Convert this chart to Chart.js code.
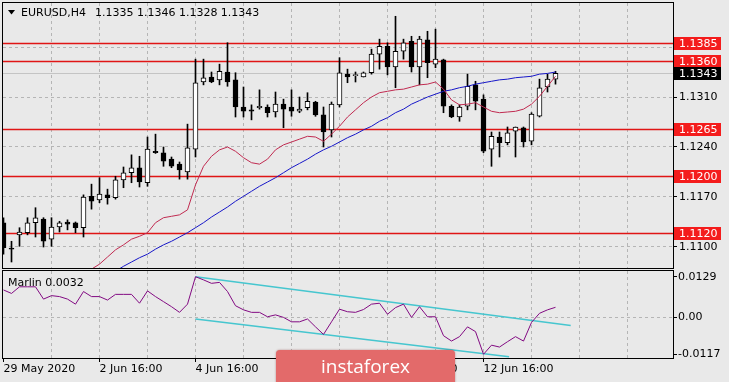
<!DOCTYPE html>
<html lang="en">
<head>
<meta charset="UTF-8">
<title>EURUSD,H4</title>
<script src="https://cdn.jsdelivr.net/npm/chart.js"></script>
<style>
    html, body {
        margin: 0;
        padding: 0;
        background: #e9e9e9;
        overflow: hidden;
    }
    #wrap {
        position: relative;
        width: 729px;
        height: 382px;
        overflow: hidden;
    }
    #main { position: absolute; left: 0; top: 0; }
    #osc { position: absolute; left: 0; top: 270px; }
    /* watermark box in the lower middle */
    .logo {
        position: absolute;
        left: 276px;
        top: 350px;
        width: 179px;
        height: 40px;
        background: #e36a6a;
        border-radius: 4px;
        box-shadow: 0 0 2px rgba(120, 30, 30, 0.5);
        color: #fff;
        font-family: "Open Sans", sans-serif;
        font-size: 19px;
        line-height: 32px;
        text-align: center;
    }
</style>
</head>
<body>
<div id="wrap">
    <canvas id="main" width="729" height="270"></canvas>
    <canvas id="osc" width="729" height="112"></canvas>
    <div class="logo">instaforex</div>
</div>

<script>
// H4 candles, index 0 = 29 May 16:00
const opens  = [1.1134, 1.1098, 1.1117, 1.1120, 1.1134, 1.1139, 1.1111, 1.1128, 1.1135, 1.1134,
                1.1127, 1.1171, 1.1166, 1.1173, 1.1169, 1.1194, 1.1204, 1.1211, 1.1190, 1.1234,
                1.1232, 1.1223, 1.1216, 1.1205, 1.1237, 1.1331, 1.1338, 1.1334, 1.1345, 1.1334,
                1.1296, 1.1292, 1.1295, 1.1296, 1.1289, 1.1300, 1.1296, 1.1290, 1.1295, 1.1303,
                1.1285, 1.1264, 1.1299, 1.1342, 1.1340, 1.1338, 1.1344, 1.1370, 1.1381, 1.1352,
                1.1374, 1.1388, 1.1352, 1.1390, 1.1356, 1.1362, 1.1297, 1.1282, 1.1297, 1.1327,
                1.1307, 1.1237, 1.1254, 1.1246, 1.1262, 1.1267, 1.1248, 1.1283, 1.1324, 1.1335];
const highs  = [1.1141, 1.1108, 1.1127, 1.1141, 1.1155, 1.1141, 1.1141, 1.1136, 1.1138, 1.1135,
                1.1173, 1.1188, 1.1197, 1.1181, 1.1199, 1.1212, 1.1229, 1.1227, 1.1254, 1.1258,
                1.1240, 1.1226, 1.1219, 1.1272, 1.1363, 1.1363, 1.1345, 1.1356, 1.1386, 1.1344,
                1.1324, 1.1299, 1.1320, 1.1299, 1.1317, 1.1307, 1.1320, 1.1310, 1.1316, 1.1304,
                1.1296, 1.1303, 1.1365, 1.1349, 1.1345, 1.1345, 1.1377, 1.1391, 1.1386, 1.1423,
                1.1391, 1.1395, 1.1395, 1.1402, 1.1405, 1.1363, 1.1299, 1.1299, 1.1342, 1.1332,
                1.1313, 1.1261, 1.1261, 1.1268, 1.1268, 1.1268, 1.1288, 1.1335, 1.1342, 1.1346];
const lows   = [1.1090, 1.1079, 1.1101, 1.1117, 1.1114, 1.1100, 1.1101, 1.1121, 1.1124, 1.1120,
                1.1114, 1.1153, 1.1162, 1.1160, 1.1167, 1.1183, 1.1190, 1.1184, 1.1185, 1.1231,
                1.1213, 1.1211, 1.1195, 1.1195, 1.1226, 1.1327, 1.1330, 1.1327, 1.1325, 1.1282,
                1.1282, 1.1278, 1.1293, 1.1282, 1.1282, 1.1267, 1.1283, 1.1288, 1.1292, 1.1283,
                1.1240, 1.1254, 1.1296, 1.1330, 1.1331, 1.1338, 1.1342, 1.1349, 1.1341, 1.1323,
                1.1363, 1.1345, 1.1327, 1.1337, 1.1351, 1.1288, 1.1281, 1.1276, 1.1292, 1.1292,
                1.1232, 1.1213, 1.1226, 1.1243, 1.1226, 1.1240, 1.1243, 1.1282, 1.1317, 1.1328];
const closes = [1.1099, 1.1097, 1.1121, 1.1134, 1.1141, 1.1108, 1.1128, 1.1134, 1.1132, 1.1127,
                1.1170, 1.1164, 1.1174, 1.1169, 1.1194, 1.1204, 1.1211, 1.1191, 1.1237, 1.1232,
                1.1220, 1.1213, 1.1208, 1.1239, 1.1330, 1.1337, 1.1331, 1.1346, 1.1331, 1.1296,
                1.1290, 1.1290, 1.1297, 1.1288, 1.1300, 1.1293, 1.1290, 1.1293, 1.1304, 1.1285,
                1.1261, 1.1300, 1.1344, 1.1338, 1.1340, 1.1344, 1.1370, 1.1381, 1.1352, 1.1374,
                1.1386, 1.1352, 1.1391, 1.1358, 1.1363, 1.1297, 1.1282, 1.1296, 1.1325, 1.1304,
                1.1234, 1.1255, 1.1246, 1.1260, 1.1268, 1.1247, 1.1286, 1.1323, 1.1335, 1.1343];

// moving averages (null = below the visible range / not drawn)
const maRed  = [null, null, null, null, null, null, null, null, null, null,
                null, 1.1069, 1.1076, 1.1086, 1.1096, 1.1103, 1.1111, 1.1115, 1.1120, 1.1134,
                1.1141, 1.1143, 1.1145, 1.1152, 1.1187, 1.1213, 1.1227, 1.1236, 1.1240, 1.1234,
                1.1225, 1.1218, 1.1216, 1.1223, 1.1236, 1.1243, 1.1247, 1.1251, 1.1255, 1.1254,
                1.1248, 1.1258, 1.1269, 1.1282, 1.1292, 1.1302, 1.1310, 1.1316, 1.1318, 1.1320,
                1.1321, 1.1324, 1.1327, 1.1328, 1.1331, 1.1321, 1.1306, 1.1299, 1.1300, 1.1302,
                1.1296, 1.1290, 1.1288, 1.1289, 1.1290, 1.1293, 1.1300, 1.1311, 1.1325, 1.1339];
const maBlue = [null, null, null, null, null, null, null, null, null, null,
                null, null, null, null, 1.1066, 1.1073, 1.1079, 1.1085, 1.1090, 1.1097,
                1.1103, 1.1108, 1.1114, 1.1120, 1.1127, 1.1134, 1.1142, 1.1149, 1.1156, 1.1164,
                1.1171, 1.1178, 1.1185, 1.1191, 1.1197, 1.1204, 1.1211, 1.1217, 1.1223, 1.1230,
                1.1236, 1.1241, 1.1247, 1.1253, 1.1258, 1.1264, 1.1269, 1.1276, 1.1281, 1.1288,
                1.1293, 1.1300, 1.1305, 1.1310, 1.1314, 1.1318, 1.1320, 1.1323, 1.1325, 1.1328,
                1.1330, 1.1332, 1.1334, 1.1335, 1.1337, 1.1338, 1.1339, 1.1342, 1.1343, 1.1345];

// Marlin oscillator
const marlin = [0.0087, 0.0076, 0.0097, 0.0097, 0.0097, 0.0058, 0.0069, 0.0066, 0.0058, 0.0042,
                0.0082, 0.0066, 0.0066, 0.0055, 0.0073, 0.0073, 0.0073, 0.0045, 0.0084, 0.0066,
                0.0050, 0.0034, 0.0016, 0.0042, 0.0129, 0.0119, 0.0108, 0.0111, 0.0082, 0.0037,
                0.0024, 0.0016, 0.0016, 0.0002, 0.0008, 0.0000, -0.0014, -0.0014, -0.0005, -0.0030,
                -0.0054, -0.0014, 0.0026, 0.0018, 0.0016, 0.0025, 0.0042, 0.0045, 0.0010, 0.0031,
                0.0042, 0.0000, 0.0034, 0.0002, 0.0002, -0.0058, -0.0075, -0.0061, -0.0030, -0.0045,
                -0.0117, -0.0088, -0.0094, -0.0077, -0.0061, -0.0075, -0.0016, 0.0013, 0.0024, 0.0032];

// trend lines on the oscillator (bar index, value)
const trendUpperX = [24, 70.9];
const trendUpperY = [0.0129, -0.0026];
const trendLowerX = [24, 63.2];
const trendLowerY = [-0.0005, -0.0125];

// horizontal levels and last price
const levels = [1.1385, 1.1360, 1.1265, 1.1200, 1.1120];
const bidPrice = 1.1343;

// axis ticks
const priceTicks = [1.1100, 1.1170, 1.1240, 1.1310, 1.1380];
const oscTicks = [0.0129, 0, -0.0117];
const oscTickText = ['0.0129', '0.00', '-0.0117'];
const dateIdx = [0, 12, 24, 36, 48, 60];
const dateText = ['29 May 2020', '2 Jun 16:00', '4 Jun 16:00', '8 Jun 16:00', '10 Jun 16:00', '12 Jun 16:00'];

const symbolText = 'EURUSD,H4';
const ohlcText = '1.1335 1.1346 1.1328 1.1343';
const marlinText = 'Marlin 0.0032';

// ---- view window ----
const xMin = -0.0625, xMax = 83.6875;           // 8 px per bar
const yMax = 1.14416, yMin = 1.10706;
const oscMax = 0.01471, oscMin = -0.01287;
const gridIdx = [];
for (let v = 0; v <= 78; v += 6) gridIdx.push(v);

Chart.defaults.font.family = 'DejaVu Sans';
Chart.defaults.font.size = 11;
Chart.defaults.color = '#000';

const GRID = '#b5b5b5';
const idx = opens.map((_, i) => i);
const toXY = arr => arr.map((v, i) => ({x: i, y: v})).filter(p => p.y !== null);

// keep the plot box exactly where the layout padding puts it
const noPad = s => { s.paddingTop = 0; s.paddingBottom = 0; s.paddingLeft = 0; s.paddingRight = 0; };

const frame = {
    id: 'frame',
    afterDraw(chart) {
        const {ctx, chartArea: a} = chart;
        ctx.save();
        ctx.strokeStyle = '#000';
        ctx.lineWidth = 1;
        ctx.strokeRect(a.left - 0.5, a.top - 0.5, a.right - a.left + 1, a.bottom - a.top + 1);
        ctx.restore();
    }
};

const levelLines = {
    id: 'levelLines',
    beforeDatasetsDraw(chart) {
        const {ctx, chartArea: a, scales: {y}} = chart;
        ctx.save();
        ctx.beginPath();
        ctx.rect(a.left, a.top, a.right - a.left, a.bottom - a.top);
        ctx.clip();
        let py = Math.round(y.getPixelForValue(bidPrice)) + 0.5;
        ctx.strokeStyle = '#c4c4c4';
        ctx.lineWidth = 1;
        ctx.beginPath(); ctx.moveTo(a.left, py); ctx.lineTo(a.right, py); ctx.stroke();
        ctx.strokeStyle = '#e01515';
        ctx.lineWidth = 1.4;
        levels.forEach(v => {
            const p = Math.round(y.getPixelForValue(v)) + 0.5;
            ctx.beginPath(); ctx.moveTo(a.left, p); ctx.lineTo(a.right, p); ctx.stroke();
        });
        ctx.restore();
    },
    afterDraw(chart) {
        const {ctx, chartArea: a, scales: {y}} = chart;
        ctx.save();
        ctx.font = '11px "DejaVu Sans"';
        ctx.textBaseline = 'middle';
        const tag = (v, bg) => {
            const p = Math.round(y.getPixelForValue(v));
            ctx.fillStyle = bg;
            ctx.fillRect(a.right + 1, p - 6, 47, 13);
            ctx.fillStyle = '#fff';
            ctx.fillText(v.toFixed(4), a.right + 6, p + 1);
        };
        levels.forEach(v => tag(v, '#f41c1c'));
        tag(bidPrice, '#000');

        // header
        ctx.fillStyle = '#000';
        ctx.beginPath();
        ctx.moveTo(8, 10); ctx.lineTo(15, 10); ctx.lineTo(11.5, 14.5); ctx.closePath();
        ctx.fill();
        ctx.fillText(symbolText, 21, 13);
        const w = ctx.measureText(symbolText).width;
        ctx.fillText(ohlcText, 21 + w + 9, 13);
        ctx.restore();
    }
};

new Chart(document.getElementById('main'), {
    type: 'line',
    data: {
        datasets: [
            {
                type: 'line', data: toXY(maRed), borderColor: '#c02a50', borderWidth: 1,
                pointRadius: 0, tension: 0, clip: 0, order: 0
            },
            {
                type: 'line', data: toXY(maBlue), borderColor: '#1616c8', borderWidth: 1,
                pointRadius: 0, tension: 0, clip: 0, order: 0
            },
            {
                type: 'bar', data: idx.map(i => ({x: i, y: [opens[i], closes[i]]})),
                backgroundColor: idx.map(i => closes[i] >= opens[i] ? '#ffffff' : '#000000'),
                borderColor: '#000', borderWidth: 1, borderSkipped: false,
                barThickness: 5, minBarLength: 1, grouped: false, clip: 0, order: 1
            },
            {
                type: 'bar', data: idx.map(i => ({x: i, y: [lows[i], highs[i]]})),
                backgroundColor: '#000', borderWidth: 0,
                barThickness: 1, grouped: false, clip: 0, order: 2
            }
        ]
    },
    options: {
        responsive: false,
        animation: false,
        events: [],
        layout: {padding: {left: 3, top: 3, right: 0, bottom: 2}, autoPadding: false},
        plugins: {legend: {display: false}, tooltip: {enabled: false}},
        scales: {
            x: {
                type: 'linear', min: xMin, max: xMax, bounds: 'data', offset: false,
                afterBuildTicks: s => { s.ticks = gridIdx.map(v => ({value: v})); },
                afterFit: s => { s.height = 0; noPad(s); },
                grid: {color: c => c.tick && c.tick.value === 0 ? 'rgba(0,0,0,0)' : GRID, drawTicks: false, offset: false},
                border: {display: false, dash: [3, 3]},
                ticks: {display: false}
            },
            y: {
                type: 'linear', position: 'right', min: yMin, max: yMax, bounds: 'data',
                afterBuildTicks: s => { s.ticks = priceTicks.map(v => ({value: v})); },
                afterFit: s => { s.width = 56; noPad(s); },
                grid: {color: GRID, drawTicks: true, tickLength: 4, tickColor: '#000'},
                border: {display: false, dash: [3, 3]},
                ticks: {padding: 2, color: '#000', callback: v => v > 1.137 ? '' : v.toFixed(4)}
            }
        }
    },
    plugins: [levelLines, frame]
});

const oscLabel = {
    id: 'oscLabel',
    afterDraw(chart) {
        const {ctx} = chart;
        ctx.save();
        ctx.font = '11px "DejaVu Sans"';
        ctx.fillStyle = '#000';
        ctx.textBaseline = 'middle';
        ctx.fillText(marlinText, 8, 13);
        ctx.restore();
    }
};

new Chart(document.getElementById('osc'), {
    type: 'line',
    data: {
        datasets: [
            {
                data: toXY(marlin), borderColor: '#820a82', borderWidth: 1,
                pointRadius: 0, tension: 0, clip: 0
            },
            {
                data: trendUpperX.map((x, i) => ({x, y: trendUpperY[i]})), borderColor: '#46c6cf',
                borderWidth: 1.5, pointRadius: 0, clip: 0
            },
            {
                data: trendLowerX.map((x, i) => ({x, y: trendLowerY[i]})), borderColor: '#46c6cf',
                borderWidth: 1.5, pointRadius: 0, clip: 0
            }
        ]
    },
    options: {
        responsive: false,
        animation: false,
        events: [],
        layout: {padding: {left: 3, top: 1, right: 0, bottom: 0}, autoPadding: false},
        plugins: {legend: {display: false}, tooltip: {enabled: false}},
        scales: {
            x: {
                type: 'linear', min: xMin, max: xMax, bounds: 'data', offset: false,
                afterBuildTicks: s => { s.ticks = gridIdx.map(v => ({value: v})); },
                afterFit: s => { s.height = 24; noPad(s); },
                grid: {
                    color: c => c.tick && c.tick.value === 0 ? 'rgba(0,0,0,0)' : GRID,
                    drawTicks: true, tickLength: 4, offset: false,
                    tickColor: c => c.tick && dateIdx.includes(c.tick.value) ? '#000' : 'rgba(0,0,0,0)'
                },
                border: {display: false, dash: [3, 3]},
                ticks: {
                    autoSkip: false, maxRotation: 0, align: 'start', padding: 1, color: '#000',
                    callback: v => { const k = dateIdx.indexOf(v); return k >= 0 ? dateText[k] : ''; }
                }
            },
            y: {
                type: 'linear', position: 'right', min: oscMin, max: oscMax, bounds: 'data',
                afterBuildTicks: s => { s.ticks = oscTicks.map(v => ({value: v})); },
                afterFit: s => { s.width = 56; noPad(s); },
                grid: {
                    color: c => c.tick && c.tick.value === 0 ? GRID : 'rgba(0,0,0,0)',
                    drawTicks: true, tickLength: 4, tickColor: '#000'
                },
                border: {display: false, dash: [3, 3]},
                ticks: {padding: 1, color: '#000', callback: (v, i) => oscTickText[i]}
            }
        }
    },
    plugins: [oscLabel, frame]
});
</script>
</body>
</html>
